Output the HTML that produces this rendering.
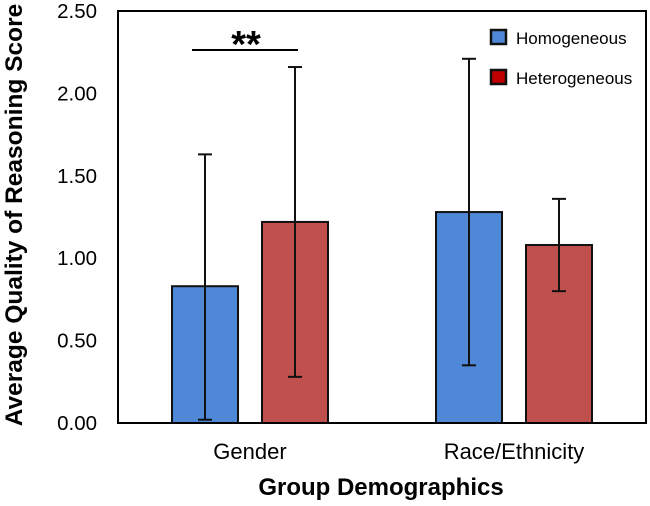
<!DOCTYPE html>
<html><head><meta charset="utf-8"><style>
body{margin:0;background:#fff;}
svg text{font-family:"Liberation Sans",Arial,sans-serif;}
</style></head><body>
<svg id="chart" width="650" height="501" xmlns="http://www.w3.org/2000/svg"></svg>
<script>
const groups=["Gender","Race/Ethnicity"];
const seriesNames=["Homogeneous","Heterogeneous"];
const homoValues=[0.83,1.28];
const heteroValues=[1.22,1.08];
const homoLow=[0.02,0.35];
const homoHigh=[1.63,2.21];
const heteroLow=[0.28,0.80];
const heteroHigh=[2.16,1.36];
const yTicks=[0,0.5,1,1.5,2,2.5];
const yTickLabels=["0.00","0.50","1.00","1.50","2.00","2.50"];

const NS="http://www.w3.org/2000/svg";
const svg=document.getElementById('chart');
const L=118,R=646,T=11,B=423,yMax=2.5;
const y=v=>B-(v/yMax)*(B-T);
const groupCenters=[250,514];
const barW=66, offset=45;
function mk(tag,attrs,parent){const e=document.createElementNS(NS,tag);for(const k in attrs)e.setAttribute(k,attrs[k]);(parent||svg).appendChild(e);return e;}

yTicks.forEach((t,i)=>{
  const tx=mk('text',{x:97,y:y(t)+7,'text-anchor':'end','font-size':20.5,fill:'#000'});
  
  
  tx.textContent=yTickLabels[i];
});
const series=[{v:homoValues,lo:homoLow,hi:homoHigh,fill:'#4f88d6',dx:-offset},{v:heteroValues,lo:heteroLow,hi:heteroHigh,fill:'#c0504d',dx:offset}];
series.forEach((s,si)=>{
  groups.forEach((g,gi)=>{
    const cx=groupCenters[gi]+s.dx;
    const r=mk('rect',{x:cx-barW/2,y:y(s.v[gi]),width:barW,height:B-y(s.v[gi]),fill:s.fill,stroke:'#111','stroke-width':2});
    
    
    const eg=mk('g',{stroke:'#111','stroke-width':2});
    
    
    mk('line',{x1:cx,x2:cx,y1:y(s.lo[gi]),y2:y(s.hi[gi])},eg);
    mk('line',{x1:cx-7,x2:cx+7,y1:y(s.lo[gi]),y2:y(s.lo[gi])},eg);
    mk('line',{x1:cx-7,x2:cx+7,y1:y(s.hi[gi]),y2:y(s.hi[gi])},eg);
  });
});
groups.forEach((g,gi)=>{
  const tx=mk('text',{x:groupCenters[gi],y:459,'text-anchor':'middle','font-size':22,fill:'#000'});
  
  
  tx.textContent=g;
});
const frame=mk('rect',{x:L,y:T,width:R-L,height:B-T,fill:'none',stroke:'#000','stroke-width':2});


const sig=mk('line',{x1:192,x2:298,y1:50,y2:50,stroke:'#000','stroke-width':2});


const st=mk('text',{x:246,y:57,'text-anchor':'middle','font-size':38,'font-weight':'bold'});


st.textContent='**';
const legColors=['#4f88d6','#c00000'];
seriesNames.forEach((n,i)=>{
  const g=mk('g',{});
  
  
  mk('rect',{x:491,y:30+i*40,width:15,height:14,fill:legColors[i],stroke:'#111','stroke-width':2.5},g);
  const t=mk('text',{x:516,y:44+i*40,'font-size':17,fill:'#000'},g);
  t.textContent=n;
});
const xt=mk('text',{x:381,y:495,'text-anchor':'middle','font-size':24,'font-weight':'bold'});


xt.textContent='Group Demographics';
const yt=mk('text',{x:0,y:0,'text-anchor':'middle','font-size':24.5,'font-weight':'bold',transform:'translate(22,215) rotate(-90)'});


yt.textContent='Average Quality of Reasoning Score';
</script>
</body></html>
